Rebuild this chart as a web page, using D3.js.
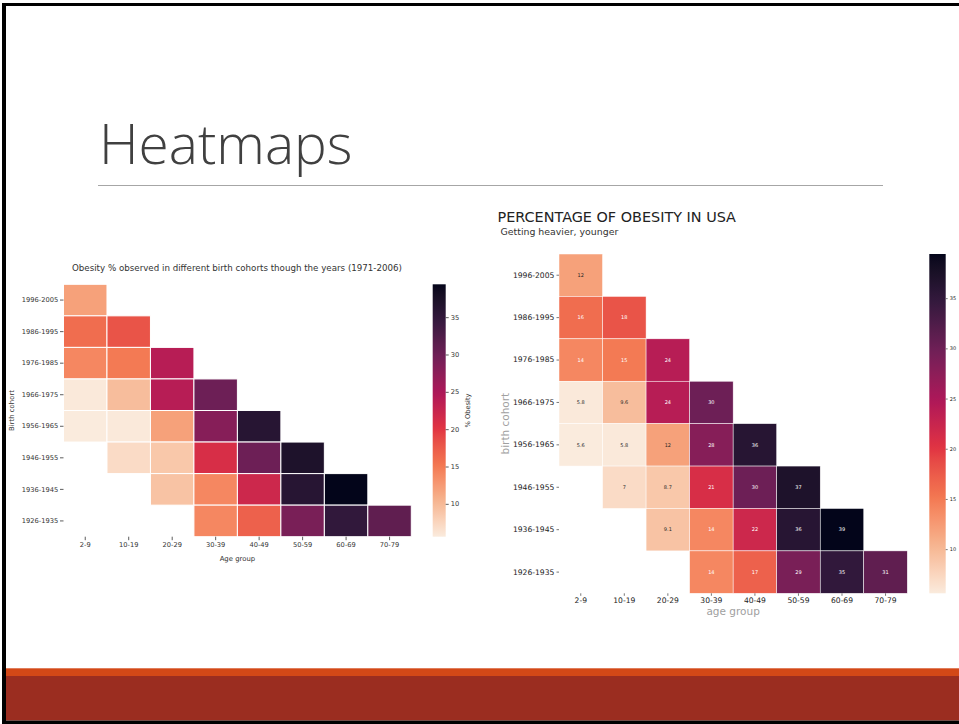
<!DOCTYPE html>
<html>
<head>
<meta charset="utf-8">
<script src="https://cdn.jsdelivr.net/npm/d3@7"></script>
<style>
html,body{margin:0;padding:0;background:#fff;}
svg{display:block;}
</style>
</head>
<body>
<svg id="slide" width="959" height="724"></svg>
<script>
// ---------- data ----------
const ageGroups = ["2-9","10-19","20-29","30-39","40-49","50-59","60-69","70-79"];
const cohorts = ["1996-2005","1986-1995","1976-1985","1966-1975","1956-1965","1946-1955","1936-1945","1926-1935"];
// rows = cohorts (top to bottom), columns = age groups; null = no observation
const obesity = [
  [12,   null, null, null, null, null, null, null],
  [16,   18,   null, null, null, null, null, null],
  [14,   15,   24,   null, null, null, null, null],
  [5.8,  9.6,  24,   30,   null, null, null, null],
  [5.6,  5.8,  12,   28,   36,   null, null, null],
  [null, 7,    8.7,  21,   30,   37,   null, null],
  [null, null, 9.1,  14,   22,   36,   39.4, null],
  [null, null, null, 14,   17,   29,   35,   31]
];
const colorbarTicks = [10, 15, 20, 25, 30, 35];
// seaborn "rocket" palette anchors (dark -> light); used reversed (rocket_r)
const rocketColors = ["#03051a","#35193e","#701f57","#ad1759","#e13342","#f37651","#f6b48f","#faebdd"];

const leftTitle = "Obesity % observed in different birth cohorts though the years (1971-2006)";
const rightTitle = "PERCENTAGE OF OBESITY IN USA";
const rightSubtitle = "Getting heavier, younger";

// ---------- colour scale ----------
const cells = [];
obesity.forEach((row, i) => row.forEach((v, j) => {
  if (v !== null) cells.push({cohort: cohorts[i], age: ageGroups[j], value: v});
}));
const vmin = d3.min(cells, d => d.value), vmax = d3.max(cells, d => d.value);
const rocket = d3.scaleLinear()
  .domain(rocketColors.map((c, i) => i / (rocketColors.length - 1)))
  .range(rocketColors)
  .interpolate(d3.interpolateLab);
const color = v => rocket(1 - (v - vmin) / (vmax - vmin));

function relLum(c) {
  const rgb = d3.rgb(c);
  const f = x => { x /= 255; return x <= 0.03928 ? x / 12.92 : Math.pow((x + 0.055) / 1.055, 2.4); };
  return 0.2126 * f(rgb.r) + 0.7152 * f(rgb.g) + 0.0722 * f(rgb.b);
}

const svg = d3.select("#slide");
const FONT = "DejaVu Sans, sans-serif";

// ---------- slide frame ----------
svg.append("rect").attr("x", 0).attr("y", 0).attr("width", 959).attr("height", 724).attr("fill", "#fff");
svg.append("rect").attr("x", 6).attr("y", 668.3).attr("width", 953).attr("height", 8).attr("fill", "#d34817");
svg.append("rect").attr("x", 6).attr("y", 676).attr("width", 953).attr("height", 44.6).attr("fill", "#9b2d20");
svg.append("rect").attr("x", 2).attr("y", 3).attr("width", 957).attr("height", 3).attr("fill", "#000");
svg.append("rect").attr("x", 2).attr("y", 3).attr("width", 4).attr("height", 721).attr("fill", "#000");
svg.append("rect").attr("x", 2).attr("y", 720.6).attr("width", 957).attr("height", 3.4).attr("fill", "#000");

svg.append("text").attr("x", 99).attr("y", 164)
  .attr("font-family", "Open Sans, sans-serif").attr("font-weight", 300)
  .attr("font-size", 55).attr("fill", "#404040").text("Heatmaps");
svg.append("line").attr("x1", 98).attr("x2", 883).attr("y1", 185.5).attr("y2", 185.5)
  .attr("stroke", "#a6a6a6").attr("stroke-width", 1);

// ---------- heatmap drawing ----------
function drawHeatmap(cfg) {
  const g = svg.append("g");
  const x = d3.scaleBand().domain(ageGroups).range([cfg.x0, cfg.x1]);
  const y = d3.scaleBand().domain(cohorts).range([cfg.y0, cfg.y1]);

  g.selectAll("rect.cell").data(cells).join("rect").attr("class", "cell")
    .attr("x", d => x(d.age)).attr("y", d => y(d.cohort))
    .attr("width", x.bandwidth()).attr("height", y.bandwidth())
    .attr("fill", d => color(d.value))
    .attr("stroke", "#fff").attr("stroke-width", cfg.cellStroke);

  if (cfg.annotate) {
    const fmt = d3.format(".2");
    g.selectAll("text.ann").data(cells).join("text").attr("class", "ann")
      .attr("x", d => x(d.age) + x.bandwidth() / 2)
      .attr("y", d => y(d.cohort) + y.bandwidth() / 2)
      .attr("dy", "0.35em").attr("text-anchor", "middle")
      .attr("font-family", FONT).attr("font-size", cfg.annSize)
      .attr("fill", d => relLum(color(d.value)) > 0.408 ? "#262626" : "#ffffff")
      .text(d => fmt(d.value));
  }

  const xAxis = g.append("g").attr("transform", `translate(0,${cfg.y1})`)
    .call(d3.axisBottom(x).tickSize(cfg.tick).tickPadding(cfg.pad));
  const yAxis = g.append("g").attr("transform", `translate(${cfg.x0},0)`)
    .call(d3.axisLeft(y).tickSize(cfg.tick).tickPadding(cfg.pad));
  [xAxis, yAxis].forEach(a => {
    a.select(".domain").remove();
    a.selectAll(".tick line").attr("stroke", cfg.tickColor).attr("stroke-width", 0.8);
    a.selectAll(".tick text").attr("font-family", FONT).attr("font-size", cfg.tickFont).attr("fill", cfg.textColor);
  });

  // axis labels
  g.append("text").attr("x", (cfg.x0 + cfg.x1) / 2).attr("y", cfg.xLabelY)
    .attr("text-anchor", "middle").attr("font-family", FONT)
    .attr("font-size", cfg.labelFont).attr("fill", cfg.labelColor).text(cfg.xLabel);
  g.append("text").attr("transform", `translate(${cfg.yLabelX},${(cfg.y0 + cfg.y1) / 2}) rotate(-90)`)
    .attr("text-anchor", "middle").attr("dy", "0.35em").attr("font-family", FONT)
    .attr("font-size", cfg.labelFont).attr("fill", cfg.labelColor).text(cfg.yLabel);

  // colorbar
  const gradId = "grad" + cfg.id;
  const grad = svg.append("defs").append("linearGradient").attr("id", gradId)
    .attr("x1", 0).attr("x2", 0).attr("y1", 1).attr("y2", 0);
  d3.range(0, 1.0001, 0.02).forEach(t => {
    grad.append("stop").attr("offset", t).attr("stop-color", color(vmin + t * (vmax - vmin)));
  });
  const cScale = d3.scaleLinear().domain([vmin, vmax]).range([cfg.y1, cfg.y0]);
  g.append("rect").attr("x", cfg.cbx).attr("y", cfg.y0).attr("width", cfg.cbw).attr("height", cfg.y1 - cfg.y0)
    .attr("fill", `url(#${gradId})`);
  const cAxis = g.append("g").attr("transform", `translate(${cfg.cbx + cfg.cbw},0)`)
    .call(d3.axisRight(cScale).tickValues(colorbarTicks).tickSize(cfg.cbTick).tickPadding(cfg.cbPad));
  cAxis.select(".domain").remove();
  cAxis.selectAll(".tick line").attr("stroke", cfg.tickColor).attr("stroke-width", 0.8);
  cAxis.selectAll(".tick text").attr("font-family", FONT).attr("font-size", cfg.cbFont).attr("fill", cfg.textColor);
  if (cfg.cbLabel) {
    g.append("text").attr("transform", `translate(${cfg.cbLabelX},${(cfg.y0 + cfg.y1) / 2}) rotate(-90)`)
      .attr("text-anchor", "middle").attr("dy", "0.35em").attr("font-family", FONT)
      .attr("font-size", cfg.tickFont).attr("fill", cfg.textColor).text(cfg.cbLabel);
  }
  return g;
}

// left heatmap
drawHeatmap({
  id: "L", x0: 63.5, x1: 411.3, y0: 284.3, y1: 536.7, cellStroke: 1, annotate: false,
  tick: 3.5, pad: 1.8, tickFont: 6.7, tickColor: "#333", textColor: "#333",
  xLabel: "Age group", xLabelY: 561, yLabel: "Birth cohort", yLabelX: 12,
  labelFont: 6.9, labelColor: "#333",
  cbx: 432.7, cbw: 13, cbTick: 3, cbPad: 2, cbFont: 6.7, cbLabel: "% Obesity", cbLabelX: 468
});
svg.append("text").attr("x", 237).attr("y", 270.5).attr("text-anchor", "middle")
  .attr("font-family", FONT).attr("font-size", 8.7).attr("fill", "#333").text(leftTitle);

// right heatmap
drawHeatmap({
  id: "R", x0: 559, x1: 907.3, y0: 254, y1: 593.3, cellStroke: 0.5, annotate: true, annSize: 5,
  tick: 2.5, pad: 2.2, tickFont: 7.6, tickColor: "#555", textColor: "#222",
  xLabel: "age group", xLabelY: 615, yLabel: "birth cohort", yLabelX: 505,
  labelFont: 10.5, labelColor: "#a0a0a0",
  cbx: 929.3, cbw: 16.4, cbTick: 2, cbPad: 2, cbFont: 5, cbLabel: null
});
svg.append("text").attr("x", 497.5).attr("y", 221.7)
  .attr("font-family", FONT).attr("font-size", 14.4).attr("fill", "#222").text(rightTitle);
svg.append("text").attr("x", 500.5).attr("y", 235)
  .attr("font-family", FONT).attr("font-size", 9.4).attr("fill", "#333").text(rightSubtitle);
</script>
</body>
</html>
